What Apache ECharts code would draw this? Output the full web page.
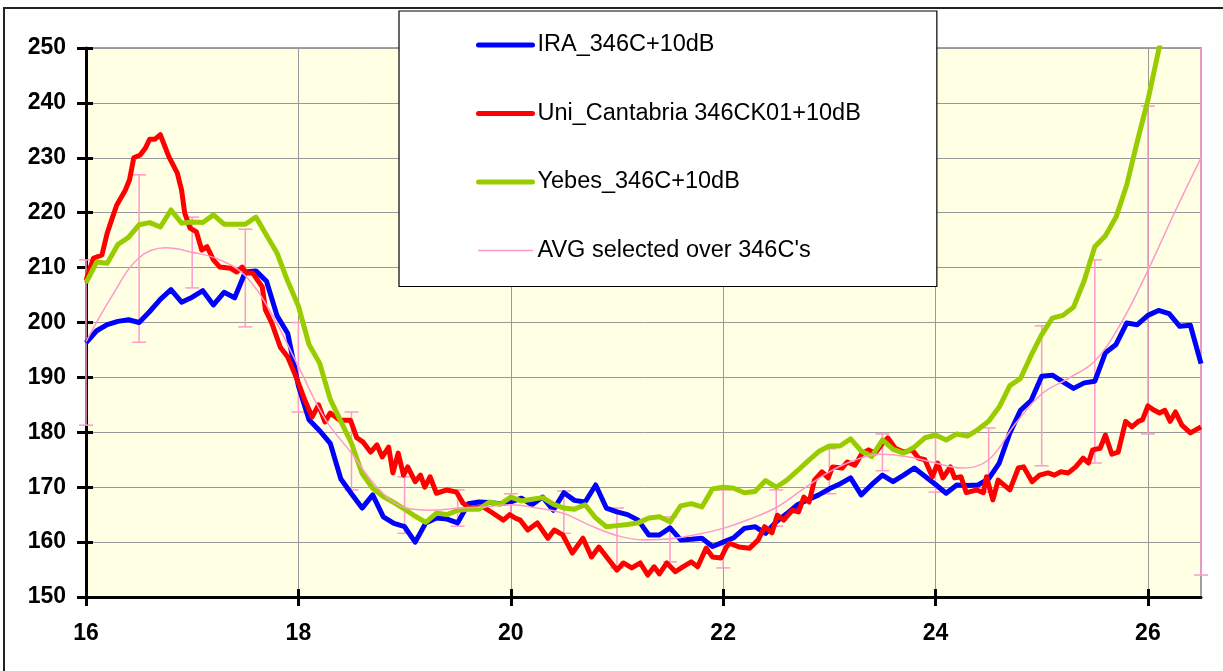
<!DOCTYPE html>
<html>
<head>
<meta charset="utf-8">
<script src="https://cdn.jsdelivr.net/npm/echarts@6/dist/echarts.min.js"></script>
<style>
  html, body { margin: 0; padding: 0; background: #fff; }
  #chart { width: 1223px; height: 671px; }
</style>
</head>
<body>
<div id="chart"></div>
<script>
// names
var seriesNames = ['IRA_346C+10dB', 'Uni_Cantabria 346CK01+10dB', 'Yebes_346C+10dB', "AVG selected over 346C's"];
var xTickLabels = [16, 18, 20, 22, 24, 26];

// IRA and Yebes are sampled every 0.1 from 16.0 to 26.5
var gridStart = 16, gridStep = 0.1;
var iraY = [196.3, 198.5, 199.6, 200.2, 200.5, 200.0, 202.0, 204.2, 206.0, 203.7,
  204.6, 205.8, 203.2, 205.5, 204.5, 209.2, 209.4, 207.5, 201.2, 198.0,
  188.5, 182.3, 180.3, 178.0, 171.5, 168.8, 166.2, 168.6, 164.6, 163.4,
  162.8, 160.0, 163.5, 164.4, 164.2, 163.5, 167.0, 167.3, 167.2, 167.0,
  167.3, 168.0, 166.8, 168.2, 165.8, 169.0, 167.6, 167.3, 170.4, 166.2,
  165.5, 165.0, 164.0, 161.3, 161.3, 162.6, 160.4, 160.5, 160.7, 159.2,
  160.0, 160.8, 162.5, 162.8, 161.6, 163.7, 165.2, 166.8, 167.7, 168.6,
  169.7, 170.6, 171.7, 168.6, 170.5, 172.2, 171.0, 172.2, 173.5, 172.0,
  170.5, 168.9, 170.4, 170.3, 170.4, 171.5, 174.4, 179.9, 184.0, 185.8,
  190.2, 190.4, 189.2, 188.0, 189.0, 189.3, 194.5, 196.0, 199.9, 199.6,
  201.3, 202.2, 201.6, 199.3, 199.5, 192.5];
var yebesY = [207.2, 211.0, 210.8, 214.2, 215.5, 217.8, 218.2, 217.4, 220.5, 218.1,
  218.3, 218.2, 219.6, 217.9, 217.9, 217.9, 219.2, 215.9, 212.6, 207.5,
  203.0, 196.0, 192.6, 186.0, 182.0, 178.0, 172.5, 169.8, 168.3, 167.2,
  166.0, 164.7, 163.6, 165.3, 165.0, 165.8, 166.0, 166.0, 167.3, 166.9,
  168.2, 167.5, 167.8, 168.1, 166.9, 166.2, 166.0, 166.8, 164.4, 162.8,
  163.0, 163.2, 163.5, 164.4, 164.6, 163.7, 166.6, 167.0, 166.4, 169.7,
  170.0, 169.8, 169.0, 169.2, 171.2, 170.0, 171.3, 173.0, 174.8, 176.5,
  177.5, 177.5, 178.8, 176.6, 175.6, 178.6, 176.9, 176.2, 177.3, 179.0,
  179.5, 178.6, 179.7, 179.3, 180.5, 182.0, 184.6, 188.5, 189.8, 194.0,
  197.8, 200.8, 201.3, 202.8, 207.6, 213.8, 215.8, 219.2, 225.0, 233.0,
  240.5, 249.5, 257.0, 265.0, 273.0, 281.0];

// Uni_Cantabria, read at its own vertices
var uniX = [16.00, 16.07, 16.15, 16.20, 16.25, 16.29, 16.37, 16.41, 16.45, 16.51,
  16.56, 16.60, 16.65, 16.70, 16.78, 16.86, 16.90, 16.93, 16.98, 17.04,
  17.09, 17.14, 17.20, 17.26, 17.36, 17.42, 17.47, 17.51, 17.57, 17.66,
  17.69, 17.75, 17.83, 17.90, 17.98, 18.06, 18.13, 18.19, 18.25, 18.30,
  18.39, 18.49, 18.55, 18.61, 18.68, 18.74, 18.79, 18.85, 18.89, 18.94,
  18.99, 19.03, 19.10, 19.15, 19.19, 19.24, 19.30, 19.40, 19.49, 19.55,
  19.61, 19.74, 19.83, 19.93, 19.99, 20.04, 20.09, 20.16, 20.25, 20.35,
  20.41, 20.49, 20.58, 20.68, 20.76, 20.83, 20.91, 21.00, 21.06, 21.14,
  21.22, 21.29, 21.35, 21.40, 21.47, 21.55, 21.62, 21.70, 21.76, 21.84,
  21.90, 21.98, 22.03, 22.06, 22.15, 22.25, 22.33, 22.39, 22.46, 22.51,
  22.57, 22.65, 22.71, 22.76, 22.81, 22.86, 22.93, 22.99, 23.03, 23.12,
  23.17, 23.24, 23.31, 23.37, 23.43, 23.49, 23.55, 23.62, 23.70, 23.78,
  23.84, 23.90, 23.97, 24.02, 24.07, 24.14, 24.18, 24.24, 24.29, 24.39,
  24.45, 24.48, 24.54, 24.59, 24.70, 24.78, 24.83, 24.91, 24.98, 25.06,
  25.12, 25.18, 25.25, 25.32, 25.39, 25.44, 25.48, 25.55, 25.60, 25.66,
  25.72, 25.79, 25.85, 25.91, 25.95, 26.00, 26.06, 26.11, 26.16, 26.21,
  26.26, 26.32, 26.40, 26.50];
var uniY = [207.7, 211.7, 212.3, 216.3, 219.2, 221.4, 224.1, 226.0, 230.0, 230.5,
  231.8, 233.4, 233.4, 234.2, 230.2, 227.2, 224.1, 219.9, 217.2, 216.5,
  213.2, 213.8, 211.4, 210.1, 209.9, 209.2, 210.1, 209.0, 209.0, 206.5,
  202.3, 199.9, 195.5, 193.7, 190.0, 185.9, 182.8, 185.0, 181.9, 183.5,
  182.2, 182.2, 179.0, 178.2, 176.4, 177.7, 175.5, 177.3, 172.6, 176.2,
  172.2, 173.7, 171.0, 172.2, 170.0, 171.9, 168.9, 169.5, 169.1, 167.1,
  166.2, 166.4, 165.3, 164.0, 165.0, 164.4, 164.0, 162.2, 163.5, 160.7,
  162.2, 161.3, 158.0, 160.7, 157.3, 159.1, 157.1, 154.9, 156.2, 155.3,
  156.2, 154.0, 155.5, 154.2, 156.2, 154.6, 155.5, 156.4, 155.5, 158.9,
  157.3, 157.1, 159.1, 159.8, 159.1, 158.9, 160.4, 162.8, 161.7, 164.9,
  164.0, 165.8, 165.5, 168.2, 167.3, 171.3, 172.8, 171.7, 173.7, 173.5,
  174.6, 174.0, 176.2, 176.8, 176.2, 177.7, 179.0, 177.1, 176.4, 176.8,
  175.3, 175.0, 171.9, 174.4, 171.7, 173.7, 171.7, 171.9, 169.0, 169.5,
  169.0, 171.9, 167.7, 171.3, 169.5, 173.5, 173.7, 171.0, 172.2, 172.6,
  172.2, 172.8, 172.6, 173.7, 175.3, 174.4, 176.8, 177.1, 179.5, 176.0,
  176.4, 182.0, 181.0, 182.0, 182.3, 184.8, 184.0, 183.5, 184.0, 182.0,
  183.7, 181.3, 179.9, 181.0];

// AVG, every 0.25
var avgX = [16.0, 16.25, 16.5, 16.75, 17.0, 17.25, 17.5, 17.75, 18.0, 18.25,
  18.5, 18.75, 19.0, 19.25, 19.5, 19.75, 20.0, 20.25, 20.5, 20.75,
  21.0, 21.25, 21.5, 21.75, 22.0, 22.25, 22.5, 22.75, 23.0, 23.25,
  23.5, 23.75, 24.0, 24.25, 24.5, 24.75, 25.0, 25.25, 25.5, 25.75,
  26.0, 26.25, 26.5];
var avgY = [196.5, 205.0, 211.8, 213.6, 212.8, 211.5, 208.5, 201.5, 192.0, 182.5,
  176.2, 169.8, 166.3, 165.8, 166.2, 166.4, 166.8, 166.2, 165.2, 163.0,
  161.2, 160.4, 160.6, 161.4, 162.5, 164.2, 166.3, 169.6, 172.8, 175.0,
  176.0, 175.5, 174.4, 173.5, 175.0, 181.5, 187.0, 189.8, 193.0, 200.0,
  209.5, 220.0, 230.0];

// error bars on AVG
var errX = [16, 16.5, 17, 17.5, 18, 18.5, 19, 19.5, 20, 20.5, 21, 21.5,
  22, 22.5, 23, 23.5, 24, 24.5, 25, 25.5, 26, 26.5];
var errLow = [181.3, 196.4, 206.3, 199.2, 183.7, 169.5, 161.6, 162.9, 164.6, 161.6, 155.3, 156.4,
  155.3, 162.9, 168.8, 173.0, 169.1, 169.1, 173.9, 174.4, 179.7, 154.0];
var errHigh = [211.4, 226.9, 219.2, 217.0, 200.0, 183.7, 171.9, 169.5, 168.8, 169.3, 166.2, 164.6,
  169.5, 169.5, 177.0, 179.7, 179.0, 180.8, 199.4, 211.4, 239.4, 306.0];

var yMin = 150, yMax = 250;
var font = 'Arial, "Liberation Sans", sans-serif';
var pink = '#FF99CC';

function onGrid(ys) {
  return ys.map(function (v, i) { return [+(gridStart + i * gridStep).toFixed(2), v]; });
}
function pairs(xs, ys) {
  return xs.map(function (x, i) { return [x, ys[i]]; });
}

var chart = echarts.init(document.getElementById('chart'));

// legend entries: line only, no marker
var legendData = seriesNames.map(function (n, i) {
  return {
    name: n,
    itemStyle: { opacity: 0 },
    lineStyle: { width: i < 3 ? 5 : 1.5, cap: 'round' }
  };
});

var option = {
  animation: false,
  backgroundColor: '#fff',
  grid: {
    left: 86, right: 22, top: 48, bottom: 74,
    show: true,
    backgroundColor: '#FFFFE3',
    borderColor: '#808080',
    borderWidth: 1.5
  },
  graphic: [{
    type: 'rect',
    shape: { x: 4, y: 8, width: 1260, height: 720 },
    style: { fill: null, stroke: '#222', lineWidth: 2 },
    silent: true
  }],
  legend: {
    data: legendData,
    orient: 'vertical',
    left: 399, top: 11,
    padding: [21, 76, 23, 77],
    itemGap: 42.5,
    itemWidth: 54,
    itemHeight: 14,
    backgroundColor: '#fff',
    borderColor: '#000',
    borderWidth: 1.2,
    textStyle: { fontSize: 23.5, fontFamily: font, color: '#000', lineHeight: 26 }
  },
  xAxis: [{
    type: 'value', position: 'bottom',
    min: 16, max: 26.5, interval: 2,
    axisLine: { lineStyle: { color: '#000', width: 3 } },
    axisTick: { length: 9, lineStyle: { color: '#000', width: 3 }, customValues: xTickLabels },
    axisLabel: {
      customValues: xTickLabels,
      margin: 25,
      color: '#000', fontSize: 23, fontWeight: 'bold', fontFamily: font,
      formatter: function (v) { return v % 2 === 0 ? String(v) : ''; }
    },
    splitLine: { show: true, lineStyle: { color: '#999', width: 1 } }
  }, {
    type: 'value', position: 'bottom',
    min: 16, max: 26.5, interval: 2,
    axisLine: { show: false },
    axisTick: { inside: true, length: 8, lineStyle: { color: '#000', width: 3 }, customValues: xTickLabels },
    axisLabel: { show: false },
    splitLine: { show: false }
  }],
  yAxis: [{
    type: 'value', position: 'left',
    min: yMin, max: yMax, interval: 10,
    axisLine: { show: true, lineStyle: { color: '#000', width: 3 } },
    axisTick: { show: true, length: 9, lineStyle: { color: '#000', width: 3 } },
    axisLabel: { margin: 20, color: '#000', fontSize: 23, fontWeight: 'bold', fontFamily: font },
    splitLine: { show: true, lineStyle: { color: '#999', width: 1 } }
  }, {
    type: 'value', position: 'left',
    min: yMin, max: yMax, interval: 10,
    axisLine: { show: false },
    axisTick: { show: true, inside: true, length: 7, lineStyle: { color: '#000', width: 3 } },
    axisLabel: { show: false },
    splitLine: { show: false }
  }],
  series: [
    {
      name: seriesNames[0], type: 'line', data: onGrid(iraY),
      symbol: 'none', lineStyle: { color: '#0000FF', width: 5, join: 'round' },
      itemStyle: { color: '#0000FF' }
    },
    {
      name: seriesNames[1], type: 'line', data: pairs(uniX, uniY),
      symbol: 'none', lineStyle: { color: '#FF0000', width: 5, join: 'round' },
      itemStyle: { color: '#FF0000' }
    },
    {
      name: seriesNames[2], type: 'line', data: onGrid(yebesY),
      symbol: 'none', lineStyle: { color: '#99CC00', width: 5, join: 'round' },
      itemStyle: { color: '#99CC00' }
    },
    {
      name: seriesNames[3], type: 'line', data: pairs(avgX, avgY),
      symbol: 'none', smooth: 0.4, lineStyle: { color: pink, width: 1.5 },
      itemStyle: { color: pink }
    },
    {
      name: 'err', type: 'custom',
      data: errX.map(function (x, i) { return [x, errLow[i], errHigh[i]]; }),
      encode: { x: 0, y: [1, 2] },
      z: 3,
      renderItem: function (params, api) {
        var x = api.value(0), lo = api.value(1), hi = api.value(2);
        var top = Math.min(hi, yMax);
        var p1 = api.coord([x, lo]);
        var p2 = api.coord([x, top]);
        var cap = 7;
        var st = { stroke: pink, lineWidth: 1.5 };
        var children = [
          { type: 'line', shape: { x1: p1[0], y1: p1[1], x2: p2[0], y2: p2[1] }, style: st },
          { type: 'line', shape: { x1: p1[0] - cap, y1: p1[1], x2: p1[0] + cap, y2: p1[1] }, style: st }
        ];
        if (hi <= yMax) {
          children.push({ type: 'line', shape: { x1: p2[0] - cap, y1: p2[1], x2: p2[0] + cap, y2: p2[1] }, style: st });
        }
        return { type: 'group', children: children };
      }
    }
  ]
};

chart.setOption(option);
</script>
</body>
</html>
